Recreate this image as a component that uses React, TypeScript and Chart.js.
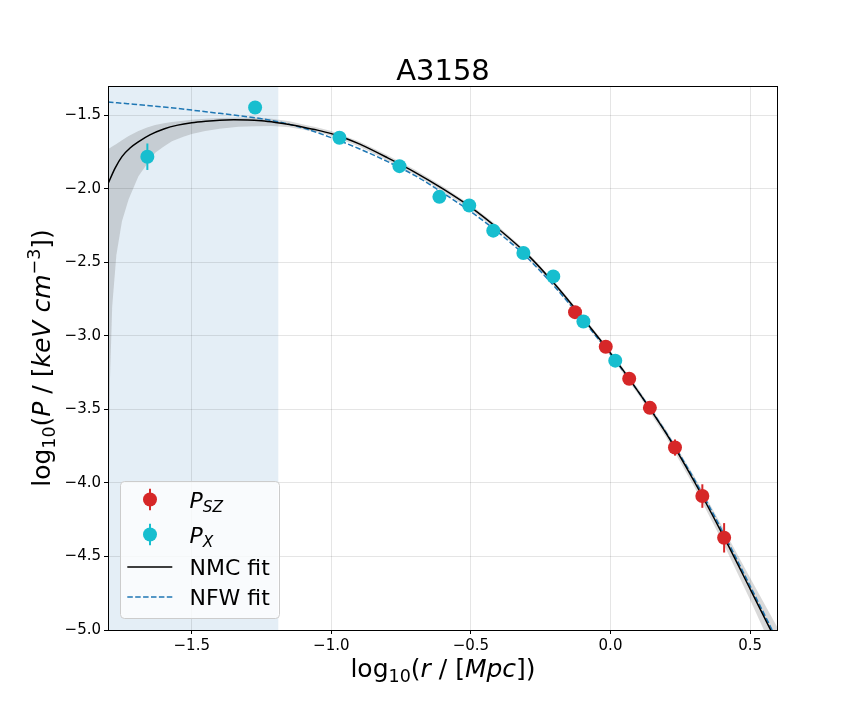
import React, { useEffect, useRef } from 'react';
import { Chart, registerables } from 'chart.js';

// ---------------- data ----------------
const titleText = 'A3158';
const xTicks = [-1.5, -1.0, -0.5, 0.0, 0.5];
const yTicks = [-5.0, -4.5, -4.0, -3.5, -3.0, -2.5, -2.0, -1.5];
const xRange = [-1.8, 0.6];
const yRange = [-5.0, -1.3];
const shadeRange = [-1.8, -1.19];

// P_X (X-ray) points
const pxR = [-1.659, -1.273, -0.971, -0.756, -0.613, -0.506, -0.42, -0.312, -0.205, -0.097, 0.017];
const pxP = [-1.781, -1.446, -1.652, -1.845, -2.054, -2.113, -2.284, -2.436, -2.595, -2.902, -3.168];
const pxErr = [0.09, 0.02, 0.02, 0.02, 0.02, 0.02, 0.02, 0.02, 0.02, 0.02, 0.02];

// P_SZ points
const szR = [-0.127, -0.017, 0.067, 0.141, 0.231, 0.329, 0.407];
const szP = [-2.838, -3.073, -3.291, -3.489, -3.759, -4.089, -4.373];
const szErr = [0.02, 0.02, 0.03, 0.04, 0.055, 0.08, 0.1];

// fits
const fitX = [-1.8, -1.775, -1.75, -1.72, -1.69, -1.65, -1.6, -1.55, -1.5, -1.45, -1.4, -1.35, -1.3, -1.25, -1.2, -1.15, -1.1, -1.05, -1.0, -0.95, -0.9, -0.8, -0.7, -0.6, -0.5, -0.4, -0.3, -0.2, -0.1, 0.0, 0.1, 0.2, 0.3, 0.4, 0.5, 0.6];
const nmcFit = [-1.965, -1.86, -1.78, -1.72, -1.678, -1.632, -1.592, -1.566, -1.55, -1.54, -1.533, -1.53, -1.531, -1.537, -1.548, -1.562, -1.58, -1.6, -1.624, -1.655, -1.694, -1.787, -1.887, -2.0, -2.125, -2.274, -2.442, -2.647, -2.877, -3.117, -3.38, -3.665, -3.99, -4.345, -4.72, -5.1];
const nfwFit = [-1.409, -1.413, -1.417, -1.422, -1.427, -1.434, -1.443, -1.453, -1.464, -1.475, -1.486, -1.497, -1.509, -1.523, -1.54, -1.561, -1.586, -1.617, -1.652, -1.688, -1.727, -1.813, -1.91, -2.028, -2.155, -2.299, -2.465, -2.665, -2.89, -3.125, -3.38, -3.66, -3.975, -4.325, -4.7, -5.08];

// NMC confidence band
const bandX = [-1.8, -1.799, -1.797, -1.793, -1.785, -1.77, -1.75, -1.726, -1.691, -1.66, -1.631, -1.6, -1.571, -1.53, -1.5, -1.452, -1.4, -1.333, -1.273, -1.213, -1.15, -1.1, -1.05, -1.0, -0.9, -0.8, -0.7, -0.6, -0.5, -0.4, -0.3, -0.2, -0.1, 0.0, 0.1, 0.2, 0.3, 0.4, 0.5, 0.6];
const bandUpper = [-1.731, -1.73, -1.727, -1.722, -1.712, -1.694, -1.669, -1.64, -1.606, -1.582, -1.565, -1.553, -1.545, -1.536, -1.53, -1.522, -1.518, -1.515, -1.515, -1.522, -1.54, -1.562, -1.582, -1.606, -1.678, -1.769, -1.87, -1.983, -2.109, -2.258, -2.426, -2.631, -2.861, -3.1, -3.36, -3.64, -3.955, -4.295, -4.645, -4.99];
const bandLower = [-9.0, -5.0, -4.0, -3.3, -2.8, -2.45, -2.22, -2.07, -1.913, -1.83, -1.754, -1.712, -1.675, -1.645, -1.627, -1.606, -1.59, -1.577, -1.573, -1.572, -1.58, -1.597, -1.614, -1.638, -1.712, -1.805, -1.904, -2.017, -2.141, -2.29, -2.458, -2.663, -2.893, -3.134, -3.4, -3.69, -4.025, -4.395, -4.795, -5.21];

// ---------------- styles ----------------
const RED = '#d62728';
const CYAN = '#17becf';
const BLUE = '#1f77b4';
const FAMILY = '"DejaVu Sans", sans-serif';

type Seg = { t: string; it?: boolean; sub?: boolean; sup?: boolean };

const xLabelSegs: Seg[] = [
  { t: 'log' }, { t: '10', sub: true }, { t: '(' }, { t: 'r', it: true }, { t: ' / [' },
  { t: 'Mpc', it: true }, { t: '])' },
];
const yLabelSegs: Seg[] = [
  { t: 'log' }, { t: '10', sub: true }, { t: '(' }, { t: 'P', it: true }, { t: ' / [' },
  { t: 'keV', it: true }, { t: ' ' }, { t: 'cm', it: true }, { t: '\u22123', sup: true }, { t: '])' },
];

function segFont(s: Seg, size: number) {
  const sz = s.sub || s.sup ? size * 0.7 : size;
  return `${s.it ? 'italic ' : ''}${sz}px ${FAMILY}`;
}
function richWidth(ctx: CanvasRenderingContext2D, segs: Seg[], size: number) {
  let w = 0;
  for (const s of segs) {
    ctx.font = segFont(s, size);
    w += ctx.measureText(s.t).width;
  }
  return w;
}
function drawRich(ctx: CanvasRenderingContext2D, segs: Seg[], size: number, x: number, y: number) {
  ctx.textAlign = 'left';
  ctx.textBaseline = 'alphabetic';
  for (const s of segs) {
    ctx.font = segFont(s, size);
    const dy = s.sub ? size * 0.2 : s.sup ? -size * 0.42 : 0;
    ctx.fillText(s.t, x, y + dy);
    x += ctx.measureText(s.t).width;
  }
}

// shaded span, drawn before everything (registered first so it runs before the filler)
const shadePlugin = {
  id: 'shadeSpan',
  beforeDraw(chart: any) {
    const { ctx, chartArea, scales } = chart;
    if (!chartArea || !scales.x) return;
    const x0 = scales.x.getPixelForValue(shadeRange[0]);
    const x1 = scales.x.getPixelForValue(shadeRange[1]);
    ctx.save();
    ctx.fillStyle = 'rgba(31,119,180,0.12)';
    ctx.fillRect(x0, chartArea.top, x1 - x0, chartArea.bottom - chartArea.top);
    ctx.restore();
  },
};
Chart.register(shadePlugin);
Chart.register(...registerables);

const errorBarPlugin = {
  id: 'errorBars',
  beforeDatasetDraw(chart: any, args: any) {
    const ds = chart.data.datasets[args.index];
    if (!ds.errors) return;
    const { ctx, scales } = chart;
    ctx.save();
    ctx.strokeStyle = ds.backgroundColor;
    ctx.lineWidth = 2;
    ds.data.forEach((p: any, i: number) => {
      const e = ds.errors[i];
      const x = scales.x.getPixelForValue(p.x);
      ctx.beginPath();
      ctx.moveTo(x, scales.y.getPixelForValue(p.y - e));
      ctx.lineTo(x, scales.y.getPixelForValue(p.y + e));
      ctx.stroke();
    });
    ctx.restore();
  },
};

const framePlugin = {
  id: 'frameAndText',
  afterDatasetsDraw(chart: any) {
    const { ctx, chartArea: a } = chart;
    ctx.save();
    ctx.strokeStyle = '#000';
    ctx.lineWidth = 1;
    ctx.strokeRect(Math.round(a.left) + 0.5, Math.round(a.top) + 0.5, Math.round(a.right - a.left) - 1, Math.round(a.bottom - a.top));
    ctx.restore();
  },
  afterDraw(chart: any) {
    const { ctx, chartArea: a } = chart;
    const cx = (a.left + a.right) / 2;
    const cy = (a.top + a.bottom) / 2;
    ctx.save();
    ctx.fillStyle = '#000';
    // title
    ctx.font = `29px ${FAMILY}`;
    ctx.textAlign = 'center';
    ctx.textBaseline = 'alphabetic';
    ctx.fillText(titleText, cx, a.top - 6);
    // x label
    const xs = 25;
    const xw = richWidth(ctx, xLabelSegs, xs);
    drawRich(ctx, xLabelSegs, xs, cx - xw / 2, a.bottom + 47);
    // y label
    const yw = richWidth(ctx, yLabelSegs, xs);
    ctx.save();
    ctx.translate(a.left - 58, cy);
    ctx.rotate(-Math.PI / 2);
    drawRich(ctx, yLabelSegs, xs, -yw / 2, 0);
    ctx.restore();

    // legend
    const bx = a.left + 12;
    const bw = 159;
    const bh = 137;
    const by = a.bottom - 12 - bh;
    ctx.beginPath();
    ctx.roundRect(bx + 0.5, by + 0.5, bw, bh, 4);
    ctx.fillStyle = 'rgba(255,255,255,0.8)';
    ctx.fill();
    ctx.strokeStyle = '#cccccc';
    ctx.lineWidth = 1;
    ctx.stroke();

    const mx = bx + 30;
    const tx = bx + 69.5;
    const fs = 22;
    const rows = [by + 18.5, by + 53.5, by + 86, by + 116];
    [[RED, rows[0], [{ t: 'P', it: true }, { t: 'SZ', it: true, sub: true }]], [CYAN, rows[1], [{ t: 'P', it: true }, { t: 'X', it: true, sub: true }]]].forEach(([col, ry, segs]: any) => {
      ctx.strokeStyle = col;
      ctx.lineWidth = 2;
      ctx.beginPath();
      ctx.moveTo(mx, ry - 10.7);
      ctx.lineTo(mx, ry + 10.7);
      ctx.stroke();
      ctx.fillStyle = col;
      ctx.beginPath();
      ctx.arc(mx, ry, 7, 0, Math.PI * 2);
      ctx.fill();
      ctx.fillStyle = '#000';
      drawRich(ctx, segs, fs, tx, ry + 8);
    });
    ctx.lineWidth = 1.5;
    ctx.strokeStyle = '#000';
    ctx.beginPath();
    ctx.moveTo(bx + 7.3, rows[2]);
    ctx.lineTo(bx + 52.3, rows[2]);
    ctx.stroke();
    ctx.strokeStyle = BLUE;
    ctx.setLineDash([5.5, 2.4]);
    ctx.beginPath();
    ctx.moveTo(bx + 7.3, rows[3]);
    ctx.lineTo(bx + 52.3, rows[3]);
    ctx.stroke();
    ctx.setLineDash([]);
    ctx.fillStyle = '#000';
    ctx.font = `${fs}px ${FAMILY}`;
    ctx.textAlign = 'left';
    ctx.textBaseline = 'alphabetic';
    ctx.fillText('NMC fit', tx, rows[2] + 8);
    ctx.fillText('NFW fit', tx, rows[3] + 8);
    ctx.restore();
  },
};

const toXY = (xs: number[], ys: number[]) => xs.map((x, i) => ({ x, y: ys[i] }));
const fmt = (v: any) => Number(v).toFixed(1).replace('-', '\u2212');

export default function App() {
  const ref = useRef<HTMLCanvasElement>(null);
  useEffect(() => {
    const canvas = ref.current;
    if (!canvas) return;
    const chart = new Chart(canvas, {
      type: 'line',
      data: {
        datasets: [
          {
            label: 'P_X',
            data: toXY(pxR, pxP),
            errors: pxErr,
            showLine: false,
            pointRadius: 7,
            pointHoverRadius: 7,
            pointBorderWidth: 0,
            backgroundColor: CYAN,
            borderColor: CYAN,
            order: 0,
          } as any,
          {
            label: 'P_SZ',
            data: toXY(szR, szP),
            errors: szErr,
            showLine: false,
            pointRadius: 7,
            pointHoverRadius: 7,
            pointBorderWidth: 0,
            backgroundColor: RED,
            borderColor: RED,
            order: 1,
          } as any,
          {
            label: 'NMC fit',
            data: toXY(fitX, nmcFit),
            borderColor: '#000',
            borderWidth: 1.5,
            pointRadius: 0,
            cubicInterpolationMode: 'monotone',
            fill: false,
            order: 2,
          },
          {
            label: 'NFW fit',
            data: toXY(fitX, nfwFit),
            borderColor: BLUE,
            borderWidth: 1.5,
            borderDash: [5.5, 2.4],
            pointRadius: 0,
            cubicInterpolationMode: 'monotone',
            fill: false,
            order: 3,
          },
          {
            label: 'band lower',
            data: toXY(bandX, bandLower),
            borderWidth: 0,
            borderColor: 'rgba(0,0,0,0)',
            pointRadius: 0,
            tension: 0,
            fill: false,
            order: 4,
          },
          {
            label: 'band upper',
            data: toXY(bandX, bandUpper),
            borderWidth: 0,
            borderColor: 'rgba(0,0,0,0)',
            backgroundColor: 'rgba(128,128,128,0.3)',
            pointRadius: 0,
            tension: 0,
            fill: '-1',
            order: 4,
          },
        ],
      },
      options: {
        animation: false,
        responsive: false,
        events: [],
        layout: { padding: { left: 0, top: 86, right: 86, bottom: 0 } },
        plugins: {
          legend: { display: false },
          tooltip: { enabled: false },
          title: { display: false },
          filler: { drawTime: 'beforeDraw' },
        } as any,
        scales: {
          x: {
            type: 'linear',
            min: xRange[0],
            max: xRange[1],
            afterFit: (s: any) => { s.height = 90; },
            afterBuildTicks: (s: any) => { s.ticks = xTicks.map((v) => ({ value: v })); },
            grid: { color: 'rgba(0,0,0,0.1)', lineWidth: 1, drawTicks: true, tickLength: 4, tickColor: '#000', tickWidth: 1 },
            border: { display: false },
            ticks: { callback: fmt, color: '#000', font: { family: FAMILY, size: 15 }, padding: 3, maxRotation: 0, autoSkip: false },
          },
          y: {
            type: 'linear',
            min: yRange[0],
            max: yRange[1],
            afterFit: (s: any) => { s.width = 108; },
            afterBuildTicks: (s: any) => { s.ticks = yTicks.map((v) => ({ value: v })); },
            grid: { color: 'rgba(0,0,0,0.1)', lineWidth: 1, drawTicks: true, tickLength: 4, tickColor: '#000', tickWidth: 1 },
            border: { display: false },
            ticks: { callback: fmt, color: '#000', font: { family: FAMILY, size: 15 }, padding: 3, autoSkip: false },
          },
        },
      } as any,
      plugins: [errorBarPlugin, framePlugin],
    });
    return () => chart.destroy();
  }, []);
  return (
    <div style={{ position: 'absolute', left: 0, top: 0, width: 864, height: 720, background: '#fff' }}>
      <canvas ref={ref} width={864} height={720} style={{ display: 'block', width: 864, height: 720 }} />
    </div>
  );
}
